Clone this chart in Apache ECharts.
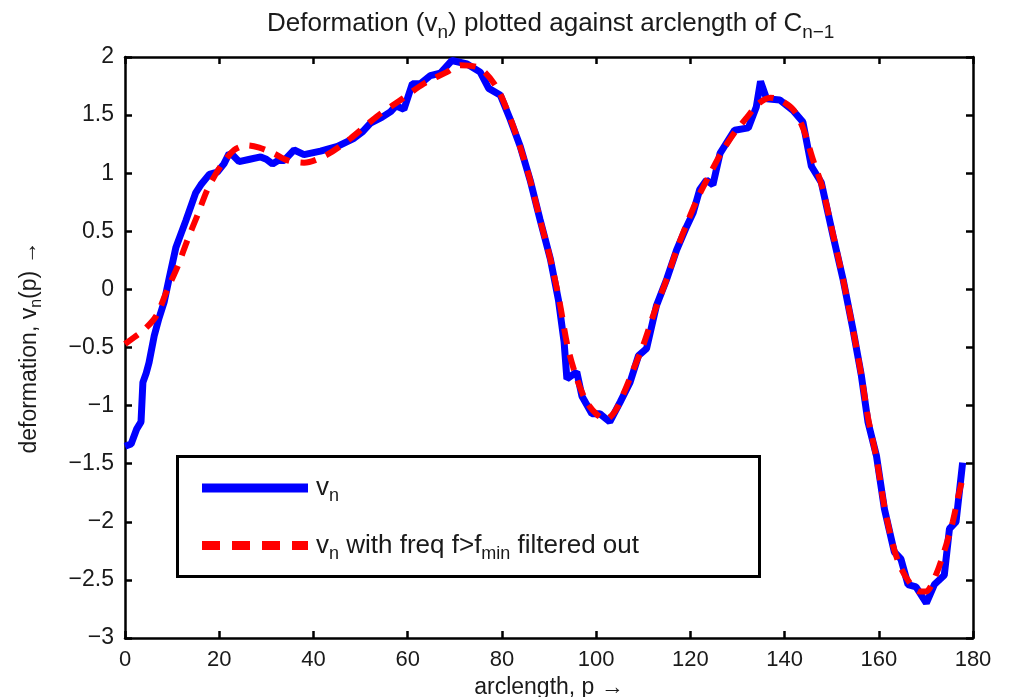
<!DOCTYPE html>
<html>
<head>
<meta charset="utf-8">
<script src="https://cdn.jsdelivr.net/npm/echarts@6/dist/echarts.min.js"></script>
<style>html,body{margin:0;padding:0;background:#fff}#c{width:1009px;height:697px}</style>
</head>
<body>
<div id="c"></div>
<script>
// arclength p, deformation v_n
const rawSeries = [[0,-1.35],[1.3,-1.33],[2.5,-1.2],[3.4,-1.14],[3.8,-0.8],[4.5,-0.72],[5.1,-0.63],[6.2,-0.40],[7.2,-0.25],[8.3,-0.11],[9.4,0.10],[10.8,0.36],[12.9,0.59],[15.0,0.83],[16.1,0.90],[17.9,0.99],[19.6,1.01],[21,1.08],[22.1,1.17],[23,1.15],[24.2,1.10],[26.5,1.12],[28.8,1.14],[30,1.12],[31.3,1.08],[32.5,1.11],[33.8,1.11],[35.9,1.20],[38.0,1.16],[41.5,1.19],[45.1,1.23],[48.6,1.30],[50.5,1.36],[52.1,1.43],[54.5,1.48],[56.4,1.53],[57.5,1.58],[59.2,1.55],[61.0,1.77],[62.7,1.77],[64.8,1.84],[66.9,1.86],[69.4,1.97],[72.6,1.94],[75.4,1.87],[77.2,1.73],[79.7,1.67],[81.8,1.46],[83.9,1.23],[86.0,0.94],[88.1,0.60],[90.3,0.26],[92.0,-0.09],[93.2,-0.45],[93.8,-0.77],[95.9,-0.71],[97.0,-0.92],[99.1,-1.07],[100.8,-1.07],[102.9,-1.14],[105.1,-0.97],[107.2,-0.80],[109.0,-0.57],[110.7,-0.51],[112.8,-0.14],[115,0.09],[117.1,0.34],[119.2,0.54],[120.6,0.66],[122.0,0.86],[123.4,0.94],[124.8,0.90],[126.3,1.17],[129.4,1.37],[132.3,1.39],[134.0,1.57],[134.9,1.79],[136.2,1.64],[139,1.63],[141.8,1.54],[143.9,1.44],[145.7,1.06],[147.8,0.92],[150.3,0.46],[152.4,0.09],[154.5,-0.34],[156.3,-0.74],[157.7,-1.14],[159.5,-1.43],[161.2,-1.89],[163.3,-2.26],[164.7,-2.32],[166.2,-2.54],[167.9,-2.56],[170.1,-2.70],[171.8,-2.54],[173.9,-2.46],[175,-2.06],[176.4,-2.0],[177.8,-1.49]];
const filteredSeries = [[0,-0.47],[2,-0.41],[4,-0.35],[6.6,-0.23],[9,0.0],[11.2,0.2],[13.3,0.43],[15.4,0.64],[17.5,0.86],[20.3,1.06],[23.2,1.2],[26,1.24],[28.5,1.22],[31.6,1.17],[34.5,1.11],[38,1.09],[42.9,1.16],[47.9,1.3],[53.5,1.49],[58.5,1.63],[63.4,1.77],[68.3,1.87],[71.2,1.93],[75.4,1.9],[79,1.73],[81.8,1.47],[84,1.21],[86,0.94],[88.1,0.6],[90.3,0.26],[92.2,-0.1],[94,-0.5],[96,-0.78],[98,-0.97],[100,-1.07],[102,-1.12],[104,-1.05],[106,-0.88],[108,-0.68],[110,-0.48],[112.5,-0.18],[115,0.09],[117.1,0.34],[119.2,0.56],[121.5,0.78],[124,0.98],[126.5,1.17],[129.4,1.35],[132,1.48],[134.5,1.6],[137,1.65],[139.5,1.62],[142,1.54],[144,1.38],[146,1.12],[148,0.88],[150.3,0.47],[152.4,0.09],[154.5,-0.34],[156.3,-0.74],[157.7,-1.1],[159.5,-1.45],[161.2,-1.87],[163,-2.2],[164.5,-2.38],[166.5,-2.52],[168.6,-2.6],[170,-2.6],[172.2,-2.45],[174.3,-2.2],[175.7,-2.0],[177.1,-1.74],[178,-1.6]];
const xTicks = {min:0, max:180, interval:20};
const yTicks = {min:-3, max:2, interval:0.5};
const seriesNames = ['vn', 'vnf'];

const FONT = '"Liberation Sans", Arial, sans-serif';
const TXT = '#1a1a1a';
const fmtMinus = v => String(v).replace('-', '\u2212');

const chart = echarts.init(document.getElementById('c'), null, {renderer: 'canvas'});
const axisCommon = {
  axisLine: {show: true, onZero: false, lineStyle: {color: '#000', width: 2.5}},
  axisTick: {show: true, inside: true, length: 7, lineStyle: {color: '#000', width: 2.5}},
  splitLine: {show: false},
};
chart.setOption({
  animation: false,
  backgroundColor: '#fff',
  title: {
    text: 'Deformation (v{s|n}) plotted against arclength of C{s|n\u22121}',
    left: 262, top: 0,
    textStyle: {fontFamily: FONT, fontSize: 26, fontWeight: 'normal', color: TXT,
      rich: {s: {fontFamily: FONT, fontSize: 19, color: TXT, padding: [18,0,0,0]}}}
  },
  grid: {left: 125, right: 36, top: 57, bottom: 59, containLabel: false, outerBoundsMode: 'none'},
  legend: {
    orient: 'vertical', left: 197, top: 470, itemGap: 27,
    itemWidth: 106, itemHeight: 9,
    data: [
      {name: 'vn', icon: 'path://M0,0H106V9H0Z'},
      {name: 'vnf', icon: 'path://M0,0H18V9H0Z M30,0H48V9H30Z M60,0H78V9H60Z M90,0H106V9H90Z'}
    ],
    formatter: n => n === 'vn' ? 'v{s|n}' : 'v{s|n} with freq f>f{s|min} filtered out',
    textStyle: {fontFamily: FONT, fontSize: 26, color: TXT, padding: [0,0,0,3],
      rich: {s: {fontFamily: FONT, fontSize: 18, color: TXT, padding: [17,0,0,0]}}}
  },
  graphic: [{type: 'rect', left: 176, top: 455, shape: {width: 582, height: 120},
    style: {fill: 'rgba(0,0,0,0)', stroke: '#000', lineWidth: 3}, z: 10}],
  xAxis: [
    Object.assign({type: 'value', min: xTicks.min, max: xTicks.max, interval: xTicks.interval,
      position: 'bottom',
      name: 'arclength, p \u2192', nameLocation: 'middle', nameGap: 32,
      nameTextStyle: {fontFamily: FONT, fontSize: 23, color: TXT},
      axisLabel: {fontFamily: FONT, fontSize: 22, color: TXT, margin: 11}}, axisCommon),
    Object.assign({type: 'value', min: xTicks.min, max: xTicks.max, interval: xTicks.interval,
      position: 'top', axisLabel: {show: false}}, axisCommon)
  ],
  yAxis: [
    Object.assign({type: 'value', min: yTicks.min, max: yTicks.max, interval: yTicks.interval,
      position: 'left',
      name: 'deformation, v{s|n}(p) \u2192', nameLocation: 'middle', nameGap: 80, nameRotate: 90,
      nameTextStyle: {fontFamily: FONT, fontSize: 23, color: TXT,
        rich: {s: {fontFamily: FONT, fontSize: 16, color: TXT, padding: [14,0,0,0]}}},
      axisLabel: {fontFamily: FONT, fontSize: 23, color: TXT, margin: 11, formatter: fmtMinus}}, axisCommon),
    Object.assign({type: 'value', min: yTicks.min, max: yTicks.max, interval: yTicks.interval,
      position: 'right', axisLabel: {show: false}}, axisCommon)
  ],
  series: [
    {name: 'vn', type: 'line', data: rawSeries, symbol: 'none', z: 2,
      lineStyle: {color: '#0000ff', width: 7}, itemStyle: {color: '#0000ff'}},
    {name: 'vnf', type: 'line', data: filteredSeries, symbol: 'none', smooth: 0.3, z: 3,
      lineStyle: {color: '#ff0000', width: 6, type: [16, 11], cap: 'butt'}, itemStyle: {color: '#ff0000'}}
  ]
});
</script>
</body>
</html>
